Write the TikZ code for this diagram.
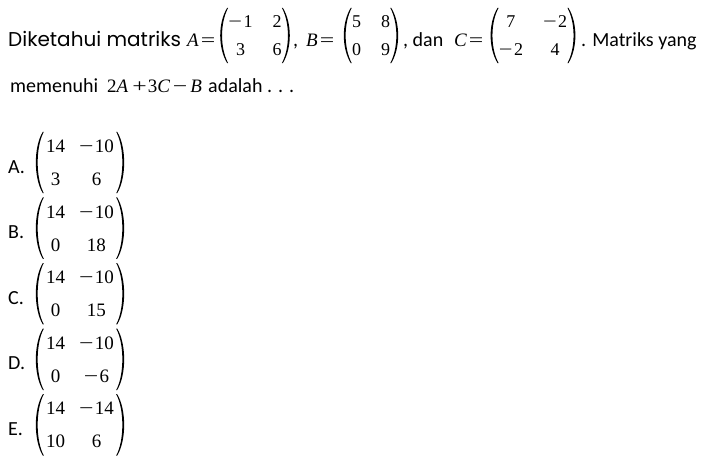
\documentclass[tikz,border=0pt]{standalone}
\usepackage{fontspec}
\setmainfont{Carlito}
\newfontfamily\comicfont{Poppins}
\newfontfamily\timesfont{Liberation Serif}
\usetikzlibrary{matrix,positioning}

\newcommand{\wideop}[1]{\scalebox{1.35}[1]{#1}}
\newcommand{\mi}{\wideop{−}\kern1.5pt}

\begin{document}
\begin{tikzpicture}[x=1pt,y=-1pt,
	txt/.style={anchor=base west,inner sep=0pt,font=\fontsize{20}{24}\selectfont},
	mth/.style={anchor=base west,inner sep=0pt,font=\timesfont\fontsize{19}{23}\selectfont},
	hmtx/.style={matrix of nodes,column sep=20pt,row sep=16pt,inner xsep=1pt,inner ysep=7.5pt,
		nodes={inner sep=0pt,text height=12pt,text depth=0pt,font=\timesfont\fontsize{18}{22}\selectfont}},
	omtx/.style={matrix of nodes,column sep=14pt,row sep=20pt,inner xsep=3pt,inner ysep=7.5pt,
		nodes={inner sep=0pt,text height=13pt,text depth=0pt,font=\timesfont\fontsize{19}{23}\selectfont}}]
	\useasboundingbox[fill=white] (0,0) rectangle (715,466);
	
	% question
	\node[txt] (intro) at (8,46) {\comicfont Diketahui matriks};
	\node[mth] (eqA) at (187,46) {{\itshape A}\kern2pt\wideop{=}};
	\matrix (matA)[hmtx] at (255,35.5) {
		\mi1 & 2 \\
		3 & 6 \\
	};
	\node[txt] (commaA) at (293,46) {,};
	\node[mth] (eqB) at (306,46) {{\itshape B}\kern2pt\wideop{=}};
	\matrix (matB)[hmtx] at (371,35.5) {
		5 & 8 \\
		0 & 9 \\
	};
	\node[txt] (dan) at (403,46) {, dan};
	\node[mth] (eqC) at (454,46) {{\itshape C}\kern2pt\wideop{=}};
	\matrix (matC)[hmtx] at (533,35.5) {
		7 & \mi2 \\
		\mi2 & 4 \\
	};
	\node[txt] (matriks) at (581,46) {. Matriks yang};
	\node[txt] (memenuhi) at (10,92) {memenuhi};
	\node[mth] (expr) at (107,92) {2{\itshape A}\kern4pt\wideop{+}\kern1pt3{\itshape C}\kern3pt\wideop{−}\kern3pt{\itshape B}};
	\node[txt] (adalah) at (208,92) {adalah . . .};
	
	% options
	\node[txt] (labA) at (8,173) {A.};
	\matrix (optA)[omtx] at (80,162.5) {
		14 & \mi10 \\
		3 & 6 \\
	};
	\node[txt] (labB) at (8,238.6) {B.};
	\matrix (optB)[omtx] at (80,228.1) {
		14 & \mi10 \\
		0 & 18 \\
	};
	\node[txt] (labC) at (8,304.2) {C.};
	\matrix (optC)[omtx] at (80,293.7) {
		14 & \mi10 \\
		0 & 15 \\
	};
	\node[txt] (labD) at (8,369.8) {D.};
	\matrix (optD)[omtx] at (80,359.3) {
		14 & \mi10 \\
		0 & \mi6 \\
	};
	\node[txt] (labE) at (8,435.4) {E.};
	\matrix (optE)[omtx] at (80,424.9) {
		14 & \mi14 \\
		10 & 6 \\
	};
	
	% brackets
	\foreach \m in {matA,matB,matC,optA,optB,optC,optD,optE}{
		\fill (\m.north west) .. controls +(-9.3,15) and +(-9.3,-15) .. (\m.south west)
			-- ++(1,0) .. controls +(-8.2,-15) and +(-8.2,15) .. ([xshift=1pt]\m.north west) -- cycle;
		\fill (\m.north east) .. controls +(9.3,15) and +(9.3,-15) .. (\m.south east)
			-- ++(-1,0) .. controls +(8.2,-15) and +(8.2,15) .. ([xshift=-1pt]\m.north east) -- cycle;
	}
\end{tikzpicture}
\end{document}
